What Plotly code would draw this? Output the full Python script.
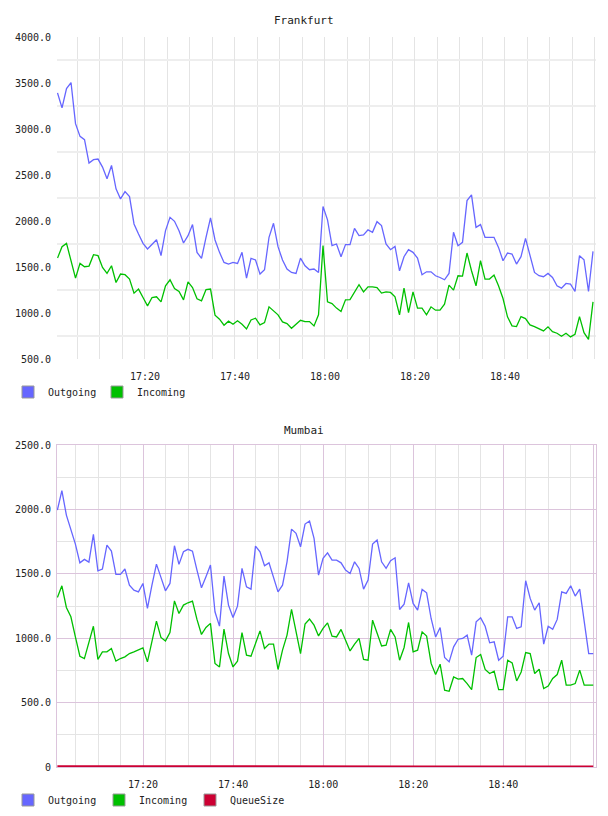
import pandas as pd
import plotly.graph_objects as go

# ---------------- data ----------------
fra_outgoing = [3392, 3229, 3440, 3505, 3058, 2920, 2884, 2629, 2666, 2673,
                2586, 2459, 2604, 2349, 2240, 2320, 2266, 1968, 1859, 1757,
                1696, 1750, 1797, 1623, 1895, 2040, 1997, 1895, 1761, 1841,
                1961, 1659, 1593, 1823, 2033, 1794, 1659, 1550, 1532, 1550,
                1539, 1659, 1379, 1594, 1576, 1423, 1470, 1823, 1975, 1721,
                1576, 1478, 1441, 1430, 1597, 1514, 1470, 1478, 1441, 2157,
                2012, 1732, 1750, 1612, 1743, 1743, 1920, 1841, 1848, 1903,
                1877, 1993, 1950, 1750, 1688, 1724, 1459, 1612, 1688, 1659,
                1597, 1416, 1448, 1448, 1405, 1386, 1361, 1430, 1877, 1732,
                1768, 2222, 2284, 1931, 1961, 1823, 1823, 1823, 1713, 1568,
                1652, 1641, 1532, 1612, 1811, 1623, 1441, 1405, 1394, 1430,
                1386, 1296, 1270, 1321, 1314, 1234, 1623, 1579, 1234, 1670]

fra_incoming = [1597, 1721, 1757, 1568, 1379, 1539, 1503, 1510, 1634, 1623,
                1495, 1430, 1514, 1332, 1423, 1416, 1369, 1216, 1260, 1168,
                1078, 1168, 1176, 1121, 1296, 1361, 1266, 1234, 1143, 1339,
                1277, 1154, 1132, 1255, 1260, 976, 933, 867, 911, 878,
                915, 878, 827, 925, 943, 871, 896, 1067, 1023, 980,
                903, 885, 834, 878, 921, 907, 907, 860, 980, 1732,
                1121, 1103, 1053, 1016, 1143, 1146, 1234, 1307, 1230, 1285,
                1285, 1277, 1216, 1230, 1223, 1176, 980, 1270, 1005, 1230,
                1053, 1053, 980, 1067, 1031, 1031, 1096, 1303, 1249, 1405,
                1401, 1652, 1459, 1296, 1568, 1369, 1369, 1412, 1296, 1157,
                958, 860, 852, 961, 939, 871, 852, 827, 805, 849,
                798, 780, 747, 780, 740, 769, 961, 787, 714, 1121]

mum_outgoing = [1995, 2145, 1956, 1852, 1731, 1585, 1612, 1591, 1806, 1523,
                1537, 1723, 1676, 1495, 1495, 1537, 1412, 1373, 1360, 1425,
                1231, 1412, 1575, 1472, 1368, 1425, 1718, 1573, 1671, 1690,
                1676, 1529, 1391, 1477, 1568, 1205, 1094, 1482, 1257, 1161,
                1249, 1542, 1399, 1381, 1715, 1671, 1562, 1585, 1477, 1360,
                1412, 1593, 1847, 1814, 1710, 1886, 1910, 1775, 1490, 1620,
                1663, 1606, 1606, 1585, 1529, 1503, 1593, 1542, 1381, 1451,
                1731, 1762, 1593, 1542, 1601, 1624, 1223, 1264, 1430, 1270,
                1218, 1379, 1352, 1153, 1010, 1083, 850, 816, 933, 992,
                998, 1024, 868, 1127, 1158, 1093, 964, 972, 829, 860,
                1166, 1166, 1076, 1088, 1446, 1309, 1218, 1275, 954, 1093,
                1070, 1146, 1360, 1348, 1407, 1327, 1381, 1127, 881, 881]

mum_incoming = [1316, 1407, 1239, 1166, 1011, 860, 842, 959, 1093, 835,
                894, 894, 920, 822, 842, 855, 881, 894, 912, 925,
                816, 964, 1132, 1006, 979, 1044, 1290, 1192, 1257, 1275,
                1288, 1146, 1029, 1083, 1115, 804, 777, 1070, 881, 777,
                822, 1044, 868, 860, 964, 1057, 920, 954, 954, 757,
                907, 1024, 1223, 1049, 881, 1109, 1148, 1101, 1018, 1076,
                1119, 1016, 1010, 1068, 985, 901, 954, 998, 835, 829,
                1140, 1037, 940, 946, 1068, 1010, 829, 928, 1122, 894,
                907, 1049, 1016, 804, 718, 798, 596, 588, 699, 682,
                687, 648, 601, 850, 873, 757, 726, 744, 601, 601,
                829, 808, 668, 738, 889, 881, 726, 759, 609, 629,
                687, 718, 829, 635, 635, 648, 752, 635, 635, 635]

mum_queue = [6, 6, 6, 5, 6, 6, 6, 5, 6, 6,
             6, 6, 6, 6, 6, 6, 7, 8, 9, 8,
             7, 6, 6, 6, 6, 7, 8, 7, 6, 6,
             6, 5, 5, 5, 5, 5, 5, 5, 5, 5,
             5, 5, 5, 5, 5, 5, 5, 5, 5, 5,
             5, 5, 5, 5, 6, 6, 5, 5, 5, 5,
             5, 5, 5, 5, 5, 5, 5, 5, 5, 5,
             5, 5, 5, 5, 5, 5, 5, 5, 5, 5,
             4, 4, 3, 3, 3, 3, 3, 3, 3, 3,
             3, 3, 3, 3, 3, 3, 3, 3, 3, 3,
             3, 3, 3, 3, 3, 3, 3, 3, 3, 3,
             3, 3, 3, 3, 3, 3, 3, 3, 3, 3]

fra_times = pd.date_range("2024-01-01 17:00:34", periods=len(fra_outgoing), freq="60s")
mum_times = pd.date_range("2024-01-01 17:00:58", periods=len(mum_outgoing), freq="60s")

y_ticks_fra = [500, 1000, 1500, 2000, 2500, 3000, 3500, 4000]
y_grid_fra = [750, 1250, 1750, 2250, 2750, 3250, 3750]
y_ticks_mum = [0, 500, 1000, 1500, 2000, 2500]
y_text_mum = ["0", "500.0", "1000.0", "1500.0", "2000.0", "2500.0"]
y_grid_mum = [250, 750, 1250, 1750, 2250]

# ---------------- styles ----------------
BLUE = "#6666ff"
GREEN = "#00c000"
RED = "#cc0033"
FONT = "DejaVu Sans Mono"
THISTLE = "#dcc4dc"
LGRAY = "#e4e4e4"

W, H = 608, 816
def px_x(a, b):
    return [a / W, b / W]
def px_y(top, bottom):
    return [1 - bottom / H, 1 - top / H]

fig = go.Figure()

# Frankfurt
fig.add_trace(go.Scatter(x=fra_times, y=fra_outgoing, mode="lines", line=dict(color=BLUE, width=1.3),
                         xaxis="x", yaxis="y", showlegend=False))
fig.add_trace(go.Scatter(x=fra_times, y=fra_incoming, mode="lines", line=dict(color=GREEN, width=1.3),
                         xaxis="x", yaxis="y", showlegend=False))
# Mumbai
fig.add_trace(go.Scatter(x=mum_times, y=mum_outgoing, mode="lines", line=dict(color=BLUE, width=1.3),
                         xaxis="x2", yaxis="y2", showlegend=False))
fig.add_trace(go.Scatter(x=mum_times, y=mum_incoming, mode="lines", line=dict(color=GREEN, width=1.3),
                         xaxis="x2", yaxis="y2", showlegend=False))
fig.add_trace(go.Scatter(x=mum_times, y=mum_queue, mode="lines", line=dict(color=RED, width=2),
                         xaxis="x2", yaxis="y2", showlegend=False))

# legend entries (square swatches)
def swatch(name, color, legend, visible_marker=True):
    return go.Scatter(x=[None], y=[None], mode="markers", name=name, legend=legend,
                      marker=dict(symbol="square", size=12, color=color,
                                  line=dict(color="#999999" if visible_marker else "rgba(0,0,0,0)", width=1),
                                  opacity=1 if visible_marker else 0),
                      xaxis="x", yaxis="y")

fig.add_trace(swatch("Outgoing", BLUE, "legend"))
fig.add_trace(swatch("Incoming", GREEN, "legend"))
fig.add_trace(swatch(" ", "rgba(0,0,0,0)", "legend", False))
fig.add_trace(swatch("Outgoing", BLUE, "legend2"))
fig.add_trace(swatch("Incoming", GREEN, "legend2"))
fig.add_trace(swatch("QueueSize", RED, "legend2"))
fig.add_trace(swatch(" ", "rgba(0,0,0,0)", "legend2", False))

common_x = dict(type="date", tickformat="%H:%M", tickmode="linear",
                tick0="2024-01-01 17:00", dtick=20 * 60 * 1000,
                ticks="outside", ticklen=8, tickcolor="rgba(0,0,0,0)",
                zeroline=False, showspikes=False)

fig.update_layout(
    width=W, height=H,
    margin=dict(l=0, r=0, t=0, b=0, autoexpand=False),
    paper_bgcolor="white", plot_bgcolor="white",
    font=dict(family=FONT, size=10, color="#222222"),
    xaxis=dict(**common_x, domain=px_x(57, 596), anchor="y",
               range=["2024-01-01 17:00:27", "2024-01-01 19:00:14"],
               showgrid=True, gridcolor=LGRAY, gridwidth=1, showline=False,
               minor=dict(dtick=5 * 60 * 1000, tick0="2024-01-01 17:00", showgrid=True,
                          gridcolor=LGRAY, gridwidth=1)),
    yaxis=dict(domain=px_y(37, 359), anchor="x", range=[500, 4000],
               tickmode="array", tickvals=y_ticks_fra, tickformat=".1f",
               showgrid=False, zeroline=False, showline=False,
               ticks="outside", ticklen=3, tickcolor="rgba(0,0,0,0)",
               minor=dict(tickmode="array", tickvals=y_grid_fra, showgrid=True,
                          gridcolor="#eeeeee", gridwidth=2)),
    xaxis2=dict(**common_x, domain=px_x(57, 596), anchor="y2",
                range=["2024-01-01 17:00:53", "2024-01-01 19:00:35"],
                showgrid=True, gridcolor=THISTLE, gridwidth=1,
                showline=True, mirror=True, linecolor=THISTLE, linewidth=1,
                minor=dict(dtick=5 * 60 * 1000, tick0="2024-01-01 17:00", showgrid=True,
                           gridcolor=LGRAY, gridwidth=1)),
    yaxis2=dict(domain=px_y(445, 767), anchor="x2", range=[0, 2500],
                tickmode="array", tickvals=y_ticks_mum, ticktext=y_text_mum,
                showgrid=True, gridcolor=THISTLE, gridwidth=1, zeroline=False,
                showline=True, mirror=True, linecolor=THISTLE, linewidth=1,
                ticks="outside", ticklen=3, tickcolor="rgba(0,0,0,0)",
                minor=dict(tickmode="array", tickvals=y_grid_mum, showgrid=True,
                           gridcolor=LGRAY, gridwidth=1)),
    legend=dict(orientation="h", x=8 / W, xanchor="left", y=1 - 392 / H, yanchor="middle",
                entrywidth=44, entrywidthmode="pixels",
                font=dict(family=FONT, size=10), bgcolor="rgba(0,0,0,0)", itemclick=False),
    legend2=dict(orientation="h", x=8 / W, xanchor="left", y=1 - 800 / H, yanchor="middle",
                 entrywidth=46, entrywidthmode="pixels",
                 font=dict(family=FONT, size=10), bgcolor="rgba(0,0,0,0)", itemclick=False),
    annotations=[
        dict(text="Frankfurt", x=0.5, y=1 - 20 / H, xref="paper", yref="paper",
             xanchor="center", yanchor="middle",
             showarrow=False, font=dict(family=FONT, size=11, color="#222222")),
        dict(text="Mumbai", x=0.5, y=1 - 430 / H, xref="paper", yref="paper",
             xanchor="center", yanchor="middle",
             showarrow=False, font=dict(family=FONT, size=11, color="#222222")),
    ],
    showlegend=True,
    hovermode=False,
)

fig.write_html("out.html")
